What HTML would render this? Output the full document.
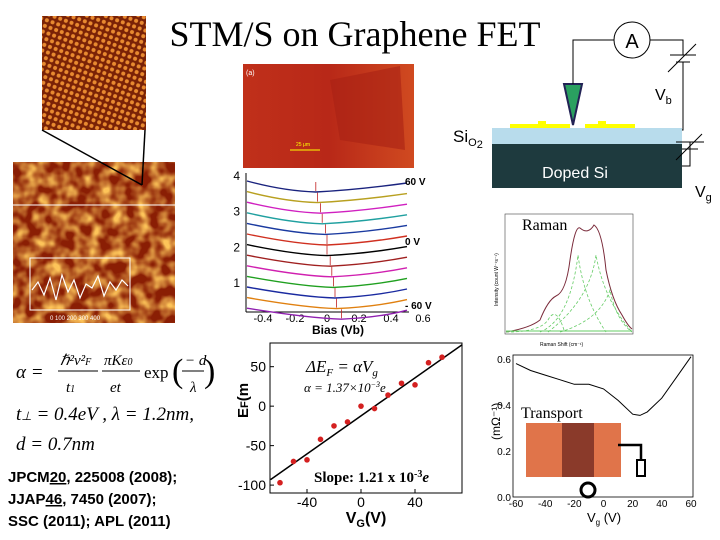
<!DOCTYPE html>
<html><head><meta charset="utf-8">
<style>
body{margin:0;width:720px;height:540px;background:#fff;overflow:hidden;font-family:"Liberation Sans",sans-serif}
svg{position:absolute;left:0;top:0}
</style></head><body>
<svg width="720" height="540" viewBox="0 0 720 540">
<defs>
<pattern id="atoms" width="6" height="6" patternUnits="userSpaceOnUse" patternTransform="rotate(20)">
<rect width="6" height="6" fill="#7a2206"/><circle cx="3" cy="3" r="2" fill="#e88a30"/></pattern>
<filter id="noise" x="0" y="0" width="1" height="1"><feTurbulence type="fractalNoise" baseFrequency="0.08" numOctaves="2" seed="3"/>
<feColorMatrix type="matrix" values="0 0 0 0 0.98  0 0 0 0 0.55  0 0 0 0 0.1  0 0 0 2.2 -0.75"/></filter>
<clipPath id="mapclip"><rect x="13" y="162" width="162" height="161"/></clipPath>
<linearGradient id="opt" x1="0" x2="1"><stop offset="0" stop-color="#c0301a"/><stop offset="0.5" stop-color="#b82818"/><stop offset="1" stop-color="#d04a20"/></linearGradient>
</defs>
<text x="355" y="46" text-anchor="middle" font-family="Liberation Serif" font-size="36">STM/S on Graphene FET</text>

<rect x="42" y="16" width="104" height="114" fill="url(#atoms)"/>
<rect x="13" y="162" width="162" height="161" fill="#8a1e04"/>
<rect x="13" y="162" width="162" height="161" filter="url(#noise)" clip-path="url(#mapclip)"/>
<line x1="42" y1="130" x2="142" y2="185" stroke="#000" stroke-width="1.5"/>
<line x1="145" y1="130" x2="142" y2="185" stroke="#000" stroke-width="1.5"/>
<line x1="13" y1="205" x2="175" y2="205" stroke="#fff" stroke-width="1"/>
<rect x="30" y="258" width="100" height="52" fill="none" stroke="#fff" stroke-width="1"/>
<polyline points="32,290 38,282 44,295 50,278 56,300 62,275 68,292 74,280 80,298 86,284 92,288 98,276 104,296 110,282 116,290 122,280 128,286" fill="none" stroke="#fff" stroke-width="1.2"/>
<text x="50" y="320" fill="#fff" font-size="6">0   100  200  300  400</text>

<rect x="243" y="64" width="171" height="104" fill="url(#opt)"/>
<path d="M330,80 L400,66 L405,150 L340,140 Z" fill="#a82214" opacity="0.6"/>
<text x="246" y="75" fill="#fff" font-size="7">(a)</text>
<line x1="290" y1="150" x2="320" y2="150" stroke="#ff0" stroke-width="1"/>
<text x="296" y="146" fill="#ff0" font-size="5">25 μm</text>

<g>
<rect x="492" y="128" width="190" height="16" fill="#b8dcec"/>
<rect x="492" y="144" width="190" height="44" fill="#1e3a3e"/>
<rect x="510" y="124" width="60" height="4" fill="#ff0"/><rect x="585" y="124" width="50" height="4" fill="#ff0"/>
<rect x="538" y="121" width="8" height="4" fill="#ff0"/><rect x="598" y="121" width="8" height="4" fill="#ff0"/>
<text x="575" y="178" text-anchor="middle" fill="#fff" font-size="16">Doped Si</text>
<text x="453" y="142" font-size="17">Si<tspan font-size="11" dy="4">O</tspan><tspan font-size="11" dy="2">2</tspan></text>
<path d="M564,84 L582,84 L573,125 Z" fill="#2aa060" stroke="#225" stroke-width="2"/>
<polyline points="573,84 573,40 614,40" fill="none" stroke="#000"/>
<circle cx="632" cy="40" r="18" fill="#fff" stroke="#000"/>
<text x="632" y="48" text-anchor="middle" font-size="20">A</text>
<polyline points="650,40 683,40 683,55" fill="none" stroke="#000"/>
<line x1="670" y1="55" x2="696" y2="55" stroke="#000"/><line x1="676" y1="62" x2="690" y2="62" stroke="#000"/>
<line x1="668" y1="72" x2="696" y2="44" stroke="#000"/>
<polyline points="683,62 683,130 682,130" fill="none" stroke="#000"/>
<polyline points="682,166 690,166 690,142" fill="none" stroke="#000"/>
<line x1="676" y1="142" x2="704" y2="142" stroke="#000"/><line x1="682" y1="149" x2="698" y2="149" stroke="#000"/>
<line x1="676" y1="160" x2="702" y2="134" stroke="#000"/>
<polyline points="690,149 690,166" fill="none" stroke="#000"/>
<text x="655" y="100" font-size="16">V<tspan font-size="11" dy="4">b</tspan></text>
<text x="695" y="197" font-size="16">V<tspan font-size="11" dy="4">g</tspan></text>
</g>

<g>
<rect x="505" y="214" width="128" height="120" fill="#fff" stroke="#444" stroke-width="0.6"/>
<path d="M506,332 Q530,328 540,320 Q548,300 556,296 Q566,292 570,260 Q575,225 580,228 Q588,235 594,225 Q602,230 606,270 Q612,300 622,315 Q628,326 632,329" fill="none" stroke="#7a2a3a" stroke-width="1"/>
<path d="M506,332 Q540,332 548,320 Q556,305 564,330 M540,332 Q570,320 578,255 Q584,300 606,332 M548,332 Q590,300 596,255 Q604,300 632,332 M560,332 Q600,320 610,290 Q616,320 632,332" fill="none" stroke="#6c6" stroke-width="0.8" stroke-dasharray="3,2"/>
<line x1="506" y1="331" x2="632" y2="331" stroke="#6c6"/>
<text x="522" y="230" font-family="Liberation Serif" font-size="16">Raman</text>
<text x="498" y="306" font-size="5" transform="rotate(-90 498 306)">Intensity (count W⁻¹s⁻¹)</text>
<text x="540" y="346" font-size="5">Raman Shift (cm⁻¹)</text>
</g>

<g id="sts">
<line x1="246" y1="173" x2="246" y2="312" stroke="#000"/>
<line x1="246" y1="312" x2="409" y2="312" stroke="#000"/>
</g>

<g font-family="Liberation Serif" font-style="italic">
<text x="16" y="378" font-size="19">α =</text>
<text x="60" y="365" font-size="15">ℏ²v²<tspan font-size="10">F</tspan></text>
<line x1="58" y1="371" x2="98" y2="371" stroke="#000"/>
<text x="66" y="392" font-size="15">t<tspan font-size="10">1</tspan></text>
<text x="104" y="365" font-size="15">πKε<tspan font-size="10">0</tspan></text>
<line x1="102" y1="371" x2="140" y2="371" stroke="#000"/>
<text x="110" y="392" font-size="15">et</text>
<text x="144" y="378" font-size="17" font-style="normal">exp</text>
<text x="172" y="382" font-size="34" font-style="normal">(</text>
<text x="185" y="365" font-size="15">− d</text><line x1="182" y1="371" x2="204" y2="371" stroke="#000"/>
<text x="190" y="392" font-size="15">λ</text>
<text x="204" y="382" font-size="34" font-style="normal">)</text>
<text x="16" y="420" font-size="19">t<tspan font-size="12">⊥</tspan> = 0.4eV , λ = 1.2nm,</text>
<text x="16" y="450" font-size="19">d = 0.7nm</text>
</g>
<g font-weight="bold" font-size="15">
<text x="8" y="482">JPCM<tspan text-decoration="underline">20</tspan>, 225008 (2008);</text>
<text x="8" y="504">JJAP<tspan text-decoration="underline">46</tspan>, 7450 (2007);</text>
<text x="8" y="526">SSC (2011); APL (2011)</text>
</g>

<g id="ef">
<rect x="270" y="343" width="192" height="150" fill="none" stroke="#000" stroke-width="1"/>
<text x="306" y="372" font-family="Liberation Serif" font-style="italic" font-size="17">ΔE<tspan font-size="11" dy="4">F</tspan><tspan dy="-4"> = αV</tspan><tspan font-size="11" dy="4">g</tspan></text>
<text x="304" y="392" font-family="Liberation Serif" font-style="italic" font-size="13">α = 1.37×10<tspan font-size="8" dy="-5">−3</tspan><tspan dy="5">e</tspan></text>
<text x="314" y="482" font-family="Liberation Serif" font-weight="bold" font-size="15">Slope: 1.21 x 10<tspan font-size="10" dy="-5">-3</tspan><tspan dy="5" font-style="italic">e</tspan></text>
<text x="248" y="418" font-weight="bold" font-size="15" transform="rotate(-90 248 418)">E<tspan font-size="11">F</tspan>(m</text>
<text x="366" y="523" text-anchor="middle" font-weight="bold" font-size="16">V<tspan font-size="11" dy="4">G</tspan><tspan dy="-4">(V)</tspan></text>
</g>

<g id="tr">
<rect x="513" y="355" width="180" height="142" fill="none" stroke="#000" stroke-width="0.8"/>
<text x="521" y="418" font-family="Liberation Serif" font-size="16">Transport</text>
<rect x="526" y="423" width="95" height="54" fill="#e0744a"/>
<rect x="562" y="423" width="32" height="54" fill="#8a3a2a"/>
<polyline points="618,445 641,445 641,460 M641,470 641,489 592,489 M573,489 543,489 543,474 513,474" fill="none" stroke="#000" stroke-width="2.5"/>
<rect x="637" y="460" width="8" height="16" fill="#fff" stroke="#000" stroke-width="2"/>
<circle cx="588" cy="490" r="7" fill="#fff" stroke="#000" stroke-width="3"/>
<text x="500" y="440" font-size="12" transform="rotate(-90 500 440)">(mΩ⁻¹)</text>
<text x="604" y="522" text-anchor="middle" font-size="13">V<tspan font-size="8" dy="3">g</tspan><tspan dy="-3"> (V)</tspan></text>
</g>

<script>
var NS='http://www.w3.org/2000/svg';
function mk(p,tag,a){var e=document.createElementNS(NS,tag);for(var k in a)e.setAttribute(k,a[k]);p.appendChild(e);return e;}
var efVg=[-60,-50,-40,-30,-20,-10,0,10,20,30,40,50,60];
var efVals=[-97,-70,-68,-42,-25,-20,0,-3,14,29,27,55,62];
var efXTicks=[-40,0,40];
var efYTicks=[50,0,-50,-100];
var efFit=[[-67,-93],[75,78]];
var ef=document.getElementById('ef');
function ex(v){return 270+(v+67.4)/142.2*192;}
function ey(v){return 343+(80-v)/190*150;}
efXTicks.forEach(function(t){mk(ef,'line',{x1:ex(t),y1:493,x2:ex(t),y2:489,stroke:'#000'});
 var tx=mk(ef,'text',{x:ex(t),y:507,'text-anchor':'middle','font-size':14});tx.textContent=t;
 
 });
efYTicks.forEach(function(t){mk(ef,'line',{x1:270,y1:ey(t),x2:274,y2:ey(t),stroke:'#000'});
 var tx=mk(ef,'text',{x:266,y:ey(t)+5,'text-anchor':'end','font-size':14});tx.textContent=t;
 
 });
var fl=mk(ef,'line',{x1:ex(efFit[0][0]),y1:ey(efFit[0][1]),x2:ex(efFit[1][0]),y2:ey(efFit[1][1]),stroke:'#000','stroke-width':1.5});


efVg.forEach(function(v,i){var c=mk(ef,'circle',{cx:ex(v),cy:ey(efVals[i]),r:2.8,fill:'#d42020'});
 
 });

var trVg=[-60,-50,-40,-30,-20,-10,0,10,20,25,30,40,50,60];
var trG=[0.58,0.55,0.53,0.51,0.49,0.49,0.47,0.42,0.36,0.355,0.37,0.43,0.52,0.61];
var trXTicks=[-60,-40,-20,0,20,40,60];
var trYTicks=[0.0,0.2,0.4,0.6];
var tr=document.getElementById('tr');
function tx_(v){return 516+(v+60)/120*175;}
function ty(v){return 497-v/0.6*138;}
trXTicks.forEach(function(t){var e=mk(tr,'text',{x:tx_(t),y:507,'text-anchor':'middle','font-size':10});e.textContent=t;
 
 });
trYTicks.forEach(function(t){var e=mk(tr,'text',{x:511,y:ty(t)+4,'text-anchor':'end','font-size':10});e.textContent=t.toFixed(1);
 
 });
var d='';trVg.forEach(function(v,i){d+=(i?'L':'M')+tx_(v).toFixed(1)+','+ty(trG[i]).toFixed(1);});
var tp=mk(tr,'path',{d:d,fill:'none',stroke:'#000','stroke-width':1});



var stsColors=['#1a237e','#b8a020','#d020c0','#20a0a0','#1a3aa0','#d03020','#000000','#a02020','#d020b0','#20a020','#1a2aa0','#e08010','#9020b0'];
var stsDip=[-0.07,-0.06,-0.04,-0.03,-0.01,0.0,0.0,0.02,0.03,0.04,0.05,0.06,0.09];
var stsXTicks=[-0.4,-0.2,0,0.2,0.4,0.6];
var stsYTicks=[1,2,3,4];
var sts=document.getElementById('sts');
function sx(v){return 263+(v+0.4)*160;}
function sy(v){return 282-(v-1)*35.7;}
stsXTicks.forEach(function(t){var e=mk(sts,'text',{x:sx(t),y:322,'text-anchor':'middle','font-size':11});e.textContent=(t===0?'0':t.toFixed(1));
 
 });
stsYTicks.forEach(function(t){var e=mk(sts,'text',{x:240,y:sy(t)+5,'text-anchor':'end','font-size':12});e.textContent=t;
 
 });
stsColors.forEach(function(c,i){var base=181+i*10.6;var m=stsDip[i];
 var p='M'+sx(-0.5)+','+base+' Q'+sx(m-0.2)+','+(base+10)+' '+sx(m)+','+(base+11)+' Q'+sx(m+0.25)+','+(base+9)+' '+sx(0.5)+','+(base+2);
 var e=mk(sts,'path',{d:p,fill:'none',stroke:c,'stroke-width':1.4});
 
 
 mk(sts,'line',{x1:sx(m),y1:base+1,x2:sx(m),y2:base+10,stroke:'#c02020','stroke-width':0.8});});
[['60 V',185],['0 V',245],['- 60 V',309]].forEach(function(l){var e=mk(sts,'text',{x:405,y:l[1],'font-size':10,'font-weight':'bold'});e.textContent=l[0];
 
 });
var xl=mk(sts,'text',{x:338,y:334,'text-anchor':'middle','font-size':12,'font-weight':'bold'});xl.textContent='Bias (Vb)';


</script>
</svg>
</body></html>
